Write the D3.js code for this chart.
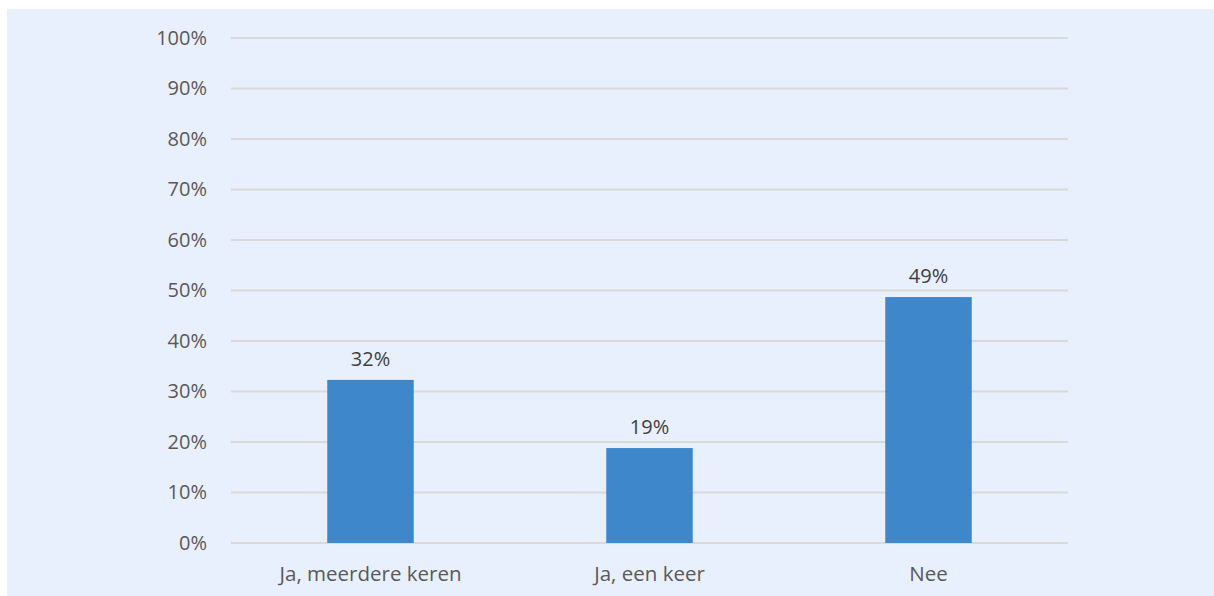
<!DOCTYPE html>
<html>
<head>
<meta charset="utf-8">
<script src="https://cdn.jsdelivr.net/npm/d3@7"></script>
<style>
  body { margin: 0; background: #fff; }
  svg text { font-family: "Open Sans", "Noto Sans", sans-serif; }
</style>
</head>
<body>
<div id="chart"></div>
<script>
// answers and shares (percent)
var categories = ["Ja, meerdere keren", "Ja, een keer", "Nee"];
var values = [32.3, 18.8, 48.7];
var labels = ["32%", "19%", "49%"];
var yTicks = [0, 10, 20, 30, 40, 50, 60, 70, 80, 90, 100];

var W = 1214, H = 596;
var margin = { left: 231, right: 146, top: 38, bottom: 53 };

var svg = d3.select("#chart").append("svg")
  .attr("width", W)
  .attr("height", H);

svg.append("rect")
  .attr("x", 7).attr("y", 9)
  .attr("width", W - 7).attr("height", H - 9)
  .attr("fill", "#e9f0fd");

var width = W - margin.left - margin.right,
    height = H - margin.top - margin.bottom;

var g = svg.append("g")
  .attr("transform", "translate(" + margin.left + "," + margin.top + ")");

var x = d3.scaleBand().domain(categories).range([0, width]).padding(0);
var y = d3.scaleLinear().domain([0, 100]).range([height, 0]);

// gridlines
g.selectAll(".grid")
  .data(yTicks).enter()
  .append("line")
  .attr("x1", 0).attr("x2", width)
  .attr("y1", function(d){ return y(d) }).attr("y2", function(d){ return y(d) })
  .attr("stroke", "#d9d9d9")
  .attr("stroke-width", 2);

var yAxis = d3.axisLeft(y).tickValues(yTicks).tickSize(0).tickPadding(24)
  .tickFormat(function(d){ return d + "%" });
g.append("g").call(yAxis)
  .call(function(s){ s.select(".domain").remove() })
  .selectAll("text")
  .attr("fill", "#595959")
  .style("font-size", "20px");

var xAxis = d3.axisBottom(x).tickSize(0).tickPadding(23);
g.append("g")
  .attr("transform", "translate(0," + height + ")")
  .call(xAxis)
  .call(function(s){ s.select(".domain").remove() })
  .selectAll("text")
  .attr("fill", "#595959")
  .style("font-size", "20.5px");

var bw = x.bandwidth() * 0.31;

g.selectAll(".bar")
  .data(values).enter()
  .append("rect")
  .attr("class", "bar")
  .attr("x", function(d, i){ return x(categories[i]) + x.bandwidth() / 2 - bw / 2 })
  .attr("y", function(d){ return y(d) })
  .attr("width", bw)
  .attr("height", function(d){ return height - y(d) })
  .attr("fill", "#3e87cb");

g.selectAll(".lbl")
  .data(values).enter()
  .append("text")
  .attr("x", function(d, i){ return x(categories[i]) + x.bandwidth() / 2 })
  .attr("y", function(d){ return y(d) - 14 })
  .attr("text-anchor", "middle")
  .attr("fill", "#404040")
  .style("font-size", "20px")
  .text(function(d, i){ return labels[i] });
</script>
</body>
</html>
